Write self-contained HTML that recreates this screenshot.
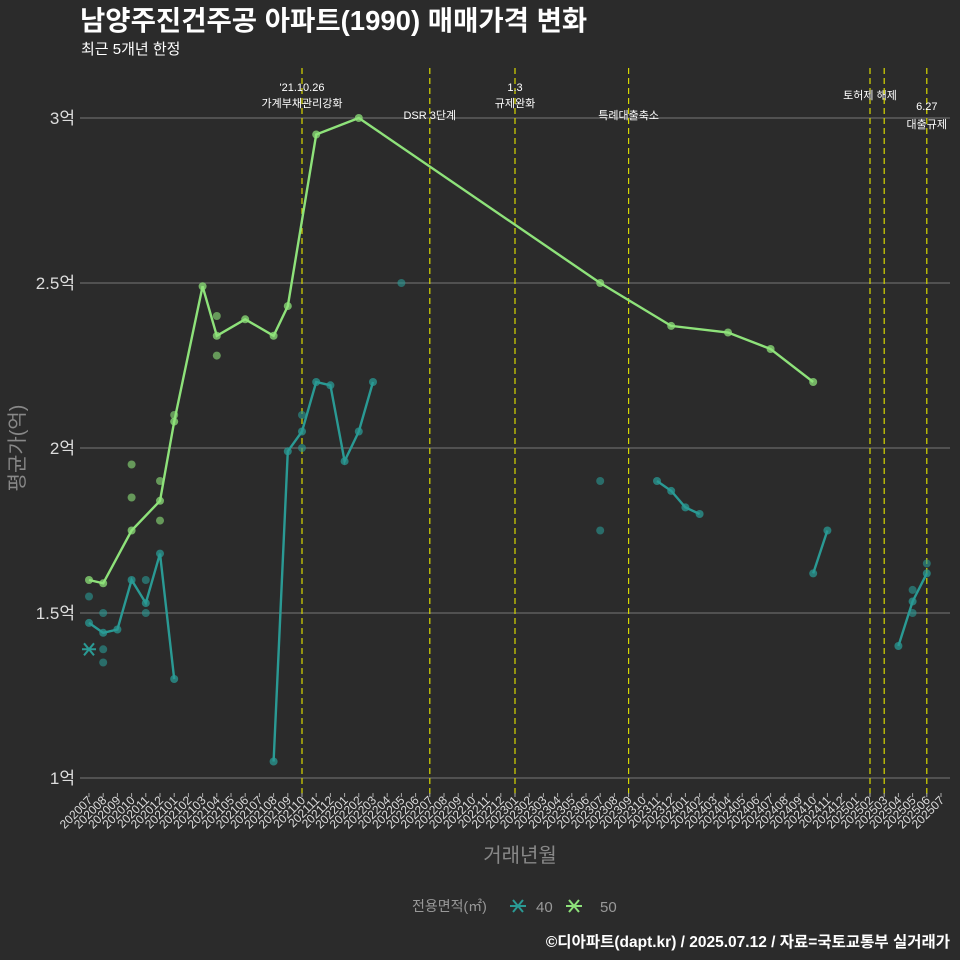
<!DOCTYPE html>
<html><head><meta charset="utf-8"><style>
body{margin:0;background:#2b2b2b;}
svg{display:block;font-family:"Liberation Sans","Noto Sans CJK KR",sans-serif;}
</style></head><body>
<svg id="chart" width="960" height="960">
<rect width="960" height="960" fill="#2b2b2b"/>
<text x="80" y="30" font-size="27.5" font-weight="bold" fill="#fff">남양주진건주공 아파트(1990) 매매가격 변화</text>
<text x="81" y="54" font-size="15" fill="#fff">최근 5개년 한정</text>
<g id="grid"></g><g id="events"></g><g id="marks"></g><g id="xaxis"></g>
<text x="520" y="862" font-size="20" fill="#888" text-anchor="middle">거래년월</text>
<text transform="translate(24,448) rotate(-90)" font-size="20" fill="#888" text-anchor="middle">평균가(억)</text>
<g>
<text x="412" y="911" font-size="14" fill="#999">전용면적(㎡)</text>
<g><path d="M510,906h16M513,900l10,12M523,900l-10,12" stroke="#2a9a94" stroke-width="2"/><text x="536" y="912" font-size="15" fill="#999">40</text></g>
<g><path d="M566,906h16M569,900l10,12M579,900l-10,12" stroke="#8ee27a" stroke-width="2"/><text x="600" y="912" font-size="15" fill="#999">50</text></g>
</g>
<text x="950" y="947" font-size="15.5" font-weight="bold" fill="#fff" text-anchor="end">©디아파트(dapt.kr) / 2025.07.12 / 자료=국토교통부 실거래가</text>
</svg>
<script>
const months=[];for(let y=2020,m=7;months.length<61;){months.push(y+String(m).padStart(2,'0'));m++;if(m>12){m=1;y++;}}
const yTicks=[1,1.5,2,2.5,3];
const yTickLabels=['1억','1.5억','2억','2.5억','3억'];
const line50Months=['202007','202008','202010','202012','202101','202103','202104','202106','202108','202109','202111','202202','202307','202312','202404','202407','202410'];
const line50Values=[1.6,1.59,1.75,1.84,2.08,2.49,2.34,2.39,2.34,2.43,2.95,3.0,2.5,2.37,2.35,2.3,2.2];
const dots50Months=['202010','202010','202012','202012','202101','202104','202104'];
const dots50Values=[1.95,1.85,1.9,1.78,2.1,2.4,2.28];
const line40Segments=[
 {m:['202007','202008','202009','202010','202011','202012','202101'],v:[1.47,1.44,1.45,1.6,1.53,1.68,1.3]},
 {m:['202108','202109','202110','202111','202112','202201','202202','202203'],v:[1.05,1.99,2.05,2.2,2.19,1.96,2.05,2.2]},
 {m:['202311','202312','202401','202402'],v:[1.9,1.87,1.82,1.8]},
 {m:['202410','202411'],v:[1.62,1.75]},
 {m:['202504','202505','202506'],v:[1.4,1.535,1.62]}];
const dots40Months=['202007','202008','202008','202008','202011','202011','202110','202110','202205','202307','202307','202505','202505','202506'];
const dots40Values=[1.55,1.5,1.39,1.35,1.6,1.5,2.1,2.0,2.5,1.9,1.75,1.57,1.5,1.65];
const cross40Months=['202007'];const cross40Values=[1.39];
const eventMonths=['202110','202207','202301','202309','202502','202503','202506'];
const eventLabels=[["'21.10.26","가계부채관리강화"],["","DSR 3단계"],["1.3","규제완화"],["","특례대출축소"],["토허제 해제",""],["",""],["6.27","대출규제"]];
const eventLabelY=[[91,107],[0,119],[91,107],[0,119],[99,0],[0,0],[110,128]];
const NS='http://www.w3.org/2000/svg';
const X=m=>89+months.indexOf(m)*14.2;
const Y=v=>778-(v-1)*330;
function el(t,a,p){const e=document.createElementNS(NS,t);for(const k in a)e.setAttribute(k,a[k]);document.getElementById(p).appendChild(e);return e;}
yTicks.forEach((t,i)=>{
 const g=el('line',{x1:80,x2:950,y1:Y(t),y2:Y(t),stroke:'#777','stroke-width':1},'grid');
 
 
 const tx=el('text',{x:75,y:Y(t)+6,'font-size':17,fill:'#ddd','text-anchor':'end'},'grid');tx.textContent=yTickLabels[i];
 
 
});
months.forEach(m=>{
 const x=X(m);
 const tk=el('line',{x1:x,x2:x,y1:793,y2:797,stroke:'#aaa'},'xaxis');
 
 
 const t=el('text',{transform:`translate(${x+4},801) rotate(-45)`,'font-size':12,fill:'#ddd','text-anchor':'end'},'xaxis');t.textContent=m;
 
 
});
eventMonths.forEach((m,i)=>{
 const x=X(m);
 const l=el('line',{x1:x,x2:x,y1:68,y2:795,stroke:'#d8d800','stroke-width':1.2,'stroke-dasharray':'6,4'},'events');
 
 
 eventLabels[i].forEach((s,j)=>{if(!s)return;
  const t=el('text',{x:x,y:eventLabelY[i][j],'font-size':11,fill:'#fff','text-anchor':'middle'},'events');t.textContent=s;
  
  });
});
const C40='#2a9a94',C50='#8ee27a';
function line(ms,vs,c,name){const p=el('polyline',{points:ms.map((m,i)=>X(m)+','+Y(vs[i])).join(' '),fill:'none',stroke:c,'stroke-width':2.4},'marks');
 
 
 ms.forEach((m,i)=>{const d=el('circle',{cx:X(m),cy:Y(vs[i]),r:4,fill:c,opacity:0.75},'marks');
 
 });}
function dots(ms,vs,c){ms.forEach((m,i)=>{const d=el('circle',{cx:X(m),cy:Y(vs[i]),r:4,fill:c,opacity:0.6},'marks');
 
 });}
dots(dots40Months,dots40Values,C40);
dots(dots50Months,dots50Values,C50);
line40Segments.forEach(s=>line(s.m,s.v,C40,'series-40-line'));
line(line50Months,line50Values,C50,'series-50-line');
cross40Months.forEach((m,i)=>{const x=X(m),y=Y(cross40Values[i]);
 const c=el('path',{d:`M${x-7},${y}h14M${x-5},${y-6}l10,12M${x+5},${y-6}l-10,12`,stroke:C40,'stroke-width':2},'marks');
 
 });
</script>
</body></html>
